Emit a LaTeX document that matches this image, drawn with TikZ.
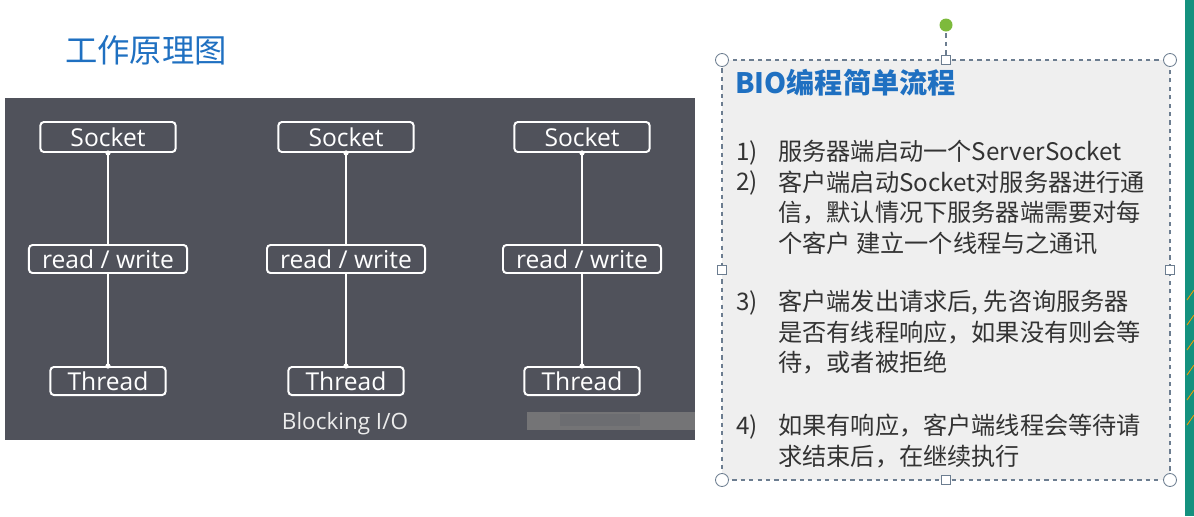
\documentclass[tikz,border=0pt]{standalone}
\usepackage{fontspec}
\setmainfont{Open Sans}
\newfontfamily\cjkfont{Noto Sans CJK SC}
\definecolor{panelgray}{HTML}{50525B}
\definecolor{titleblue}{HTML}{1F70C1}
\definecolor{notegray}{HTML}{EFEFEF}
\definecolor{handleblue}{HTML}{6C7D90}
\definecolor{handlegreen}{HTML}{7DBA3C}
\definecolor{slideteal}{HTML}{14917E}
\tikzset{
  iobox/.style={draw=white, line width=1.4pt, rounded corners=2.5pt, text=white,
    font=\fontsize{17.5}{19}\selectfont, inner sep=0pt},
  handle/.style={draw=handleblue, fill=white, line width=0.6pt},
  notetext/.style={anchor=north west, align=left, inner sep=0pt, text=black!80,
    font=\cjkfont\fontsize{17.2}{21.7}\selectfont}
}
\begin{document}
\begin{tikzpicture}[x=0.025cm, y=-0.025cm]
  \useasboundingbox (0,0) rectangle (1194,516);
  % Slide edge on the right
  \fill[slideteal] (1185,0) rectangle (1194,516);
  \foreach \k in {0,...,5}
    \draw[orange!80!yellow, line width=0.6pt] (1187,300+\k*25) -- (1194,290+\k*25);

  % Title
  \node[anchor=west, inner sep=0pt, text=titleblue, font=\cjkfont\fontsize{23}{26}\selectfont] (title) at (65,50) {工作原理图};

  % Blocking I/O panel
  \fill[panelgray] (5,98) rectangle (695,440);
  \fill[gray!75!panelgray] (527,412) rectangle (695,430);
  \fill[gray!60!panelgray] (560,414) rectangle (640,426);
  \foreach \n/\x in {1/108, 2/346, 3/582} {
    \node[iobox, minimum width=3.38cm, minimum height=0.75cm] (sock\n) at (\x,137) {Socket};
    \node[iobox, minimum width=3.95cm, minimum height=0.7cm] (rw\n) at (\x,259) {read / write};
    \node[iobox, minimum width=2.88cm, minimum height=0.7cm] (thr\n) at (\x,381) {Thread};
    \draw[white, line width=1.4pt] (sock\n.south) -- (rw\n.north);
    \draw[white, line width=1.4pt] (rw\n.south) -- (thr\n.north);
    \fill[white] (sock\n.south) circle (2.6);
    \fill[white] (thr\n.north) circle (2.6);
  }
  \node[text=white!85!gray, font=\fontsize{16}{18}\selectfont] (caption) at (345,424) {Blocking I/O};

  % Note box with selection handles
  \draw[handleblue, dashed, line width=0.8pt, fill=notegray] (722,60) rectangle (1170,480);
  \draw[handleblue, dashed, line width=0.8pt] (946,25) -- (946,56);
  \fill[handlegreen] (946,25) circle (6.5);
  \foreach \cx/\cy in {722/60, 1170/60, 722/480, 1170/480}
    \draw[handle] (\cx,\cy) circle (6.5);
  \foreach \cx/\cy in {946/60, 946/480, 722/270, 1170/270}
    \draw[handle] (\cx-4.5,\cy-4.5) rectangle (\cx+4.5,\cy+4.5);

  % Note text
  \node[anchor=west, inner sep=0pt, text=titleblue, font=\cjkfont\bfseries\fontsize{20}{23}\selectfont] (notetitle) at (735,83) {BIO编程简单流程};
  \node[notetext] (num1) at (736,140) {1)\\2)};
  \node[notetext] (item1) at (778,140) {服务器端启动一个ServerSocket\\客户端启动Socket对服务器进行通\\信，默认情况下服务器端需要对每\\个客户 建立一个线程与之通讯};
  \node[notetext] (num3) at (736,290) {3)};
  \node[notetext] (item3) at (778,290) {客户端发出请求后, 先咨询服务器\\是否有线程响应，如果没有则会等\\待，或者被拒绝};
  \node[notetext] (num4) at (736,414) {4)};
  \node[notetext] (item4) at (778,414) {如果有响应，客户端线程会等待请\\求结束后，在继续执行};
\end{tikzpicture}
\end{document}
